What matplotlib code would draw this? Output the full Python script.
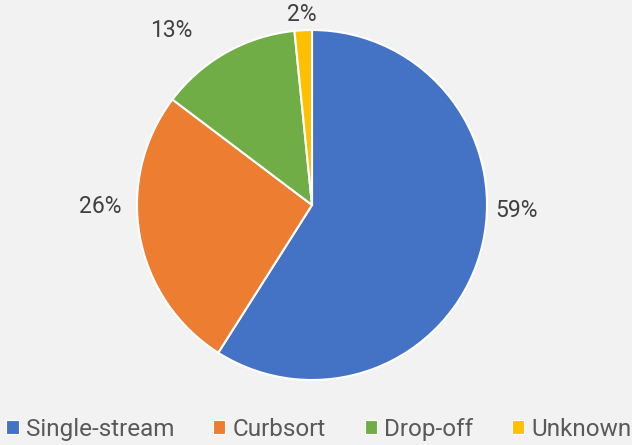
import numpy as np
import matplotlib.pyplot as plt
from matplotlib.patches import Patch

categories = ['Single-stream', 'Curbsort', 'Drop-off', 'Unknown']
shares = [59.0, 26.3, 13.1, 1.6]
pct_labels = ['59%', '26%', '13%', '2%']
colors = ['#4472C4', '#ED7D31', '#70AD47', '#FFC000']
# where each percentage label sits: angle (deg) and distance from centre
label_ang = [-1.4, 180.5, 129.0, 93.0]
label_dist = [1.17, 1.21, 1.28, 1.09]

plt.rcParams['font.family'] = ['Roboto', 'DejaVu Sans']

fig = plt.figure(figsize=(6.32, 4.45), dpi=100)
fig.patch.set_facecolor('#F2F2F2')
ax = fig.add_axes([137/632, 65/445, 350/632, 350/445])
ax.set_facecolor('#F2F2F2')

wedges, _ = ax.pie(shares, colors=colors, startangle=90, counterclock=False,
                   radius=1, wedgeprops=dict(edgecolor='white', linewidth=1.5))
ax.set_xlim(-1, 1)
ax.set_ylim(-1, 1)
ax.set_aspect('equal')

for lab, a, d in zip(pct_labels, label_ang, label_dist):
    t = np.deg2rad(a)
    ax.text(d * np.cos(t), d * np.sin(t), lab, ha='center', va='center',
            fontsize=16.5, color='#404040', clip_on=False)

handles = [Patch(facecolor=c, edgecolor='white', linewidth=0.8) for c in colors]
fig.legend(handles, categories, loc='lower center', bbox_to_anchor=(0.505, -0.04),
           ncol=4, frameon=False, fontsize=17.5, labelcolor='#595959',
           handlelength=0.5, handleheight=0.5, handletextpad=0.3, columnspacing=1.6)

fig.savefig('out.png', dpi=100, facecolor=fig.get_facecolor())
